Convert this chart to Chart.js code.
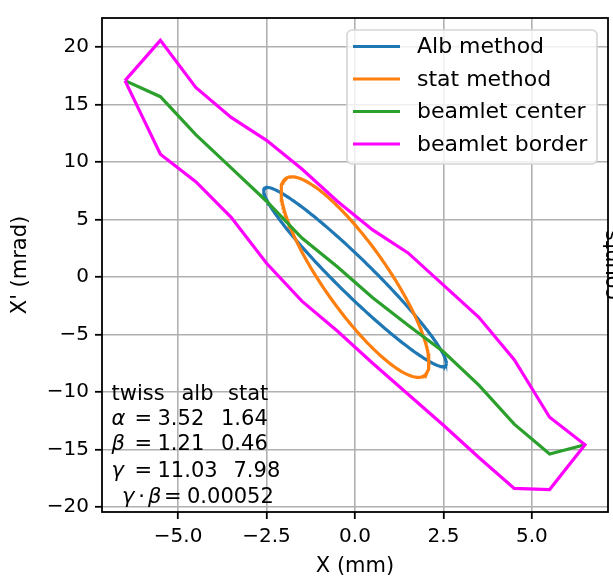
<!DOCTYPE html>
<html>
<head>
<meta charset="utf-8">
<script src="https://cdn.jsdelivr.net/npm/chart.js@4.4.1/dist/chart.umd.min.js"></script>
<style>
  html, body { margin: 0; padding: 0; background: #fff; }
</style>
</head>
<body>
<canvas id="phase" width="613" height="584"></canvas>
<script>
// beamlet bins along X (mm)
const binX = [-6.5, -5.5, -4.5, -3.5, -2.5, -1.5, -0.5, 0.5, 1.5, 2.5, 3.5, 4.5, 5.5, 6.5];
// X' (mrad) per bin
const borderUpper = [17.1, 20.6, 16.5, 13.9, 11.9, 9.4, 6.6, 4.1, 2.1, -0.7, -3.5, -7.2, -12.2, -14.6];
const borderLower = [17.1, 10.7, 8.3, 5.2, 1.2, -2.1, -4.7, -7.5, -10.2, -12.9, -15.7, -18.4, -18.5, -14.6];
const centerY = [17.1, 15.7, 12.4, 9.5, 6.6, 3.4, 0.9, -1.8, -4.2, -6.5, -9.4, -12.8, -15.4, -14.6];

// twiss parameters, [alb, stat]
const twissNames = ['alb', 'stat'];
const twissAlpha = [3.52, 1.64];
const twissBeta = [1.21, 0.46];
const twissGamma = [11.03, 7.98];
const emittance = [5.5, 9.5];
const gammaBeta = 0.00052;

const xTicks = [-5, -2.5, 0, 2.5, 5];
const yTicks = [-20, -15, -10, -5, 0, 5, 10, 15, 20];

const FONT = 'DejaVu Sans';
const fmt = (v, d) => (v < 0 ? '\u2212' : '') + Math.abs(v).toFixed(d);

// twiss ellipse: gamma x^2 + 2 alpha x x' + beta x'^2 = eps
function ellipse(alpha, beta, eps) {
  const pts = [];
  for (let i = 0; i <= 240; i++) {
    const t = 2 * Math.PI * i / 240;
    pts.push({
      x: Math.sqrt(eps * beta) * Math.cos(t),
      y: -Math.sqrt(eps / beta) * (alpha * Math.cos(t) + Math.sin(t))
    });
  }
  return pts;
}

const centerPts = binX.map((x, i) => ({x: x, y: centerY[i]}));
// closed outline: upper edge left to right, lower edge back
const borderPts = binX.map((x, i) => ({x: x, y: borderUpper[i]}))
  .concat(binX.map((x, i) => ({x: x, y: borderLower[i]})).reverse());

const line = (label, color, data, order) => ({
  label, data, order,
  borderColor: color, backgroundColor: color,
  borderWidth: 3.2, pointRadius: 0, showLine: true, fill: false, tension: 0
});

// frame on all four sides
const frame = {
  id: 'frame',
  afterDatasetsDraw(chart) {
    const {ctx, chartArea: a} = chart;
    ctx.save();
    ctx.strokeStyle = '#000';
    ctx.lineWidth = 1.8;
    ctx.strokeRect(a.left, a.top, a.right - a.left, a.bottom - a.top);
    ctx.restore();
  }
};

// twiss table in the lower left corner
const twissText = {
  id: 'twissText',
  afterDatasetsDraw(chart) {
    const {ctx, chartArea: a} = chart;
    const L = a.left, B = a.bottom;
    const put = (txt, dx, by, italic, align) => {
      ctx.font = (italic ? 'italic ' : '') + '21px "' + FONT + '"';
      ctx.textAlign = align || 'left';
      ctx.fillText(txt, L + dx, B - by);
    };
    ctx.save();
    ctx.fillStyle = '#000';
    ctx.textBaseline = 'alphabetic';
    put('twiss', 9.5, 112);
    put(twissNames[0], 79.5, 112);
    put(twissNames[1], 126, 112);
    const rows = [['\u03b1', twissAlpha], ['\u03b2', twissBeta], ['\u03b3', twissGamma]];
    const base = [87, 62, 35.3];
    rows.forEach((r, i) => {
      const by = base[i];
      put(r[0], 9.5, by, true);
      put('=', 32.5, by);
      put(r[1][0].toFixed(2), 55.5, by);
      put(r[1][1].toFixed(2), r[1][0] >= 10 ? 131.5 : 119, by);
    });
    put('\u03b3', 20, 8.7, true);
    put('\u00b7', 39.7, 8.7, false, 'center');
    put('\u03b2', 46, 8.7, true);
    put('=', 62, 8.7);
    put(gammaBeta.toFixed(5), 85, 8.7);
    ctx.restore();
  }
};

// legend box in the upper right corner
const legendBox = {
  id: 'legendBox',
  afterDraw(chart) {
    const {ctx, chartArea: a} = chart;
    const x0 = a.right - 261, y0 = a.top + 12, w = 250, h = 134;
    ctx.save();
    ctx.beginPath();
    ctx.roundRect(x0, y0, w, h, 5);
    ctx.fillStyle = 'rgba(255,255,255,0.8)';
    ctx.fill();
    ctx.strokeStyle = '#d5d5d5';
    ctx.lineWidth = 1.6;
    ctx.stroke();
    ctx.font = '22px "' + FONT + '"';
    ctx.textBaseline = 'middle';
    chart.data.datasets.forEach((ds, i) => {
      const y = y0 + 16.5 + i * 32.5;
      ctx.strokeStyle = ds.borderColor;
      ctx.lineWidth = 3.2;
      ctx.beginPath();
      ctx.moveTo(x0 + 6, y);
      ctx.lineTo(x0 + 53, y);
      ctx.stroke();
      ctx.fillStyle = '#000';
      ctx.fillText(ds.label, x0 + 70, y + 1);
    });
    ctx.restore();
  }
};

// y label of the neighbouring panel, cut at the right edge
const sideLabel = {
  id: 'sideLabel',
  afterDraw(chart) {
    const {ctx, chartArea: a} = chart;
    ctx.save();
    ctx.translate(618, (a.top + a.bottom) / 2);
    ctx.rotate(-Math.PI / 2);
    ctx.font = '21px "' + FONT + '"';
    ctx.fillStyle = '#000';
    ctx.textAlign = 'center';
    ctx.textBaseline = 'alphabetic';
    ctx.fillText('counts', 0, 0);
    ctx.restore();
  }
};

const tickFont = {family: FONT, size: 20};
const titleFont = {family: FONT, size: 21};
const grid = {
  color: '#b0b0b0', lineWidth: 1.6,
  drawTicks: true, tickLength: 7, tickColor: '#000', tickWidth: 1.8
};

new Chart(document.getElementById('phase'), {
  type: 'scatter',
  data: {
    datasets: [
      line('Alb method', '#1f77b4', ellipse(twissAlpha[0], twissBeta[0], emittance[0]), 4),
      line('stat method', '#ff7f0e', ellipse(twissAlpha[1], twissBeta[1], emittance[1]), 3),
      line('beamlet center', '#2ca02c', centerPts, 2),
      line('beamlet border', '#ff00ff', borderPts, 1)
    ]
  },
  options: {
    responsive: false,
    animation: false,
    layout: {padding: {top: 10, right: 5, left: 0, bottom: 0}},
    plugins: {legend: {display: false}, tooltip: {enabled: false}},
    scales: {
      x: {
        type: 'linear', min: -7.15, max: 7.15,
        afterBuildTicks: s => { s.ticks = xTicks.map(v => ({value: v})); },
        afterFit: s => { s.height = 72; },
        grid: grid,
        border: {display: false},
        ticks: {font: tickFont, color: '#000', padding: 6, maxRotation: 0,
                callback: v => fmt(v, 1)},
        title: {display: true, text: 'X (mm)', font: titleFont, color: '#000',
                padding: {top: 2, bottom: 5}}
      },
      y: {
        type: 'linear', min: -20.45, max: 22.55,
        afterBuildTicks: s => { s.ticks = yTicks.map(v => ({value: v})); },
        afterFit: s => { s.width = 102; },
        grid: grid,
        border: {display: false},
        ticks: {font: tickFont, color: '#000', padding: 6,
                callback: v => fmt(v, 0)},
        title: {display: true, text: "X' (mrad)", font: titleFont, color: '#000',
                padding: {top: 8, bottom: 2}}
      }
    }
  },
  plugins: [frame, twissText, legendBox, sideLabel]
});
</script>
</body>
</html>
